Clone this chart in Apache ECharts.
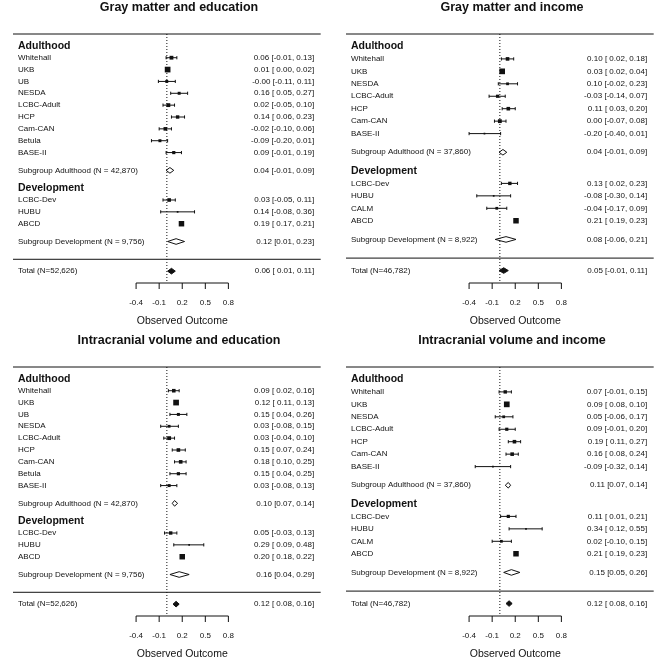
<!DOCTYPE html>
<html>
<head>
<meta charset="utf-8">
<script src="https://cdn.jsdelivr.net/npm/echarts@6/dist/echarts.min.js"></script>
<style>
  html, body { margin: 0; padding: 0; background: #fff; }
  #chart { width: 666px; height: 666px; }
</style>
</head>
<body>
<div id="chart"></div>
<script>
const titles = ['Gray matter and education', 'Gray matter and income',
  'Intracranial volume and education', 'Intracranial volume and income']

const eduAdultNames = ['Whitehall', 'UKB', 'UB', 'NESDA', 'LCBC-Adult', 'HCP', 'Cam-CAN', 'Betula', 'BASE-II']
const incAdultNames = ['Whitehall', 'UKB', 'NESDA', 'LCBC-Adult', 'HCP', 'Cam-CAN', 'BASE-II']
const eduDevNames = ['LCBC-Dev', 'HUBU', 'ABCD']
const incDevNames = ['LCBC-Dev', 'HUBU', 'CALM', 'ABCD']

// sample sizes: subgroup adulthood, subgroup development, total
const eduN = [42870, 9756, 52626]
const incN = [37860, 8922, 46782]

// [estimate, lower, upper]
const gmEduAdult = [[0.06, -0.01, 0.13], [0.01, 0.00, 0.02], [-0.001, -0.11, 0.11], [0.16, 0.05, 0.27],
  [0.02, -0.05, 0.10], [0.14, 0.06, 0.23], [-0.02, -0.10, 0.06], [-0.09, -0.20, 0.01], [0.09, -0.01, 0.19]]
const gmEduDev = [[0.03, -0.05, 0.11], [0.14, -0.08, 0.36], [0.19, 0.17, 0.21]]
const gmEduPooled = [[0.04, -0.01, 0.09], [0.12, 0.01, 0.23], [0.06, 0.01, 0.11]]

const gmIncAdult = [[0.10, 0.02, 0.18], [0.03, 0.02, 0.04], [0.10, -0.02, 0.23], [-0.03, -0.14, 0.07],
  [0.11, 0.03, 0.20], [0.00, -0.07, 0.08], [-0.20, -0.40, 0.01]]
const gmIncDev = [[0.13, 0.02, 0.23], [-0.08, -0.30, 0.14], [-0.04, -0.17, 0.09], [0.21, 0.19, 0.23]]
const gmIncPooled = [[0.04, -0.01, 0.09], [0.08, -0.06, 0.21], [0.05, -0.01, 0.11]]

const icvEduAdult = [[0.09, 0.02, 0.16], [0.12, 0.11, 0.13], [0.15, 0.04, 0.26], [0.03, -0.08, 0.15],
  [0.03, -0.04, 0.10], [0.15, 0.07, 0.24], [0.18, 0.10, 0.25], [0.15, 0.04, 0.25], [0.03, -0.08, 0.13]]
const icvEduDev = [[0.05, -0.03, 0.13], [0.29, 0.09, 0.48], [0.20, 0.18, 0.22]]
const icvEduPooled = [[0.10, 0.07, 0.14], [0.16, 0.04, 0.29], [0.12, 0.08, 0.16]]

const icvIncAdult = [[0.07, -0.01, 0.15], [0.09, 0.08, 0.10], [0.05, -0.06, 0.17], [0.09, -0.01, 0.20],
  [0.19, 0.11, 0.27], [0.16, 0.08, 0.24], [-0.09, -0.32, 0.14]]
const icvIncDev = [[0.11, 0.01, 0.21], [0.34, 0.12, 0.55], [0.02, -0.10, 0.15], [0.21, 0.19, 0.23]]
const icvIncPooled = [[0.11, 0.07, 0.14], [0.15, 0.05, 0.26], [0.12, 0.08, 0.16]]

// relative study weights (marker size)
const gmEduAdultW = [0.55, 1, 0.35, 0.35, 0.55, 0.45, 0.5, 0.35, 0.4]
const gmEduDevW = [0.5, 0.05, 0.95]
const gmIncAdultW = [0.5, 1, 0.3, 0.4, 0.5, 0.55, 0.05]
const gmIncDevW = [0.45, 0.05, 0.3, 0.95]
const icvEduAdultW = [0.5, 1, 0.35, 0.3, 0.55, 0.5, 0.5, 0.4, 0.35]
const icvEduDevW = [0.45, 0.05, 0.95]
const icvIncAdultW = [0.45, 1, 0.3, 0.4, 0.5, 0.5, 0.05]
const icvIncDevW = [0.4, 0.05, 0.3, 0.95]

const tickValues = [-0.4, -0.1, 0.2, 0.5, 0.8]
const tickLabels = ['-0.4', '-0.1', '0.2', '0.5', '0.8']

const FONT = '"Liberation Sans", Arial, sans-serif'

const panels = [
  { names: [eduAdultNames, eduDevNames], data: [gmEduAdult, gmEduDev], w: [gmEduAdultW, gmEduDevW], pooled: gmEduPooled, n: eduN },
  { names: [incAdultNames, incDevNames], data: [gmIncAdult, gmIncDev], w: [gmIncAdultW, gmIncDevW], pooled: gmIncPooled, n: incN },
  { names: [eduAdultNames, eduDevNames], data: [icvEduAdult, icvEduDev], w: [icvEduAdultW, icvEduDevW], pooled: icvEduPooled, n: eduN },
  { names: [incAdultNames, incDevNames], data: [icvIncAdult, icvIncDev], w: [icvIncAdultW, icvIncDevW], pooled: icvIncPooled, n: incN }
]

const f2 = v => v.toFixed(2)
const ciText = (d, pad) => `${f2(d[0])} [${pad && d[1] >= 0 ? ' ' : ''}${f2(d[1])}, ${f2(d[2])}]`
const nText = v => v.toLocaleString('en-US')

// rows counted downward from the top rule
const buildRows = (p) => {
  const nA = p.names[0].length
  const nD = p.names[1].length
  const rows = []
  rows.push({ kind: 'header', text: 'Adulthood', y: 1 })
  p.names[0].forEach((nm, i) => rows.push({ kind: 'study', text: nm, d: p.data[0][i], w: p.w[0][i], y: 2 + i }))
  rows.push({ kind: 'sub', text: `Subgroup Adulthood (N = ${nText(p.n[0])})`, d: p.pooled[0], y: nA + 2.5 })
  rows.push({ kind: 'header', text: 'Development', y: nA + 4 })
  p.names[1].forEach((nm, i) => rows.push({ kind: 'study', text: nm, d: p.data[1][i], w: p.w[1][i], y: nA + 5 + i }))
  rows.push({ kind: 'sub', text: `Subgroup Development (N = ${nText(p.n[1])})`, d: p.pooled[1], y: nA + nD + 5.5 })
  rows.push({ kind: 'total', text: `Total (N=${nText(p.n[2])})`, d: p.pooled[2], y: nA + nD + 8 })
  rows.push({ kind: 'frame', sep: nA + nD + 7, axis: nA + nD + 9, y: 0 })
  return rows
}

const txt = (s, x, y, align, size, weight) => ({
  type: 'text',
  style: { text: s, x, y, align, verticalAlign: 'middle', fontSize: size, fontFamily: FONT, fontWeight: weight || 'normal', fill: '#111' }
})
const seg = (x1, y1, x2, y2, dash) => ({
  type: 'line',
  shape: { x1, y1, x2, y2 },
  style: { stroke: '#111', lineWidth: 1, lineDash: dash || null }
})

const makeRender = rows => (params, api) => {
  const r = rows[params.dataIndex]
  const kids = []
  if (r.kind === 'frame') {
    const [xl, yt] = api.coord([-2, 0])
    const [xr] = api.coord([2, 0])
    const ys = api.coord([0, r.sep])[1]
    const [x0, ya] = api.coord([0, r.axis])
    kids.push(seg(xl, yt, xr, yt))
    kids.push(seg(xl, ys, xr, ys))
    kids.push(seg(x0, yt, x0, ya, [1, 2]))
    const xa = api.coord([tickValues[0], r.axis])[0]
    const xb = api.coord([tickValues[tickValues.length - 1], r.axis])[0]
    kids.push(seg(xa, ya, xb, ya))
    tickValues.forEach((t, i) => {
      const xt = api.coord([t, r.axis])[0]
      kids.push(seg(xt, ya, xt, ya + 6))
      kids.push(txt(tickLabels[i], xt, ya + 20, 'center', 8))
    })
    kids.push(txt('Observed Outcome', api.coord([0.2, r.axis])[0], ya + 38, 'center', 10.5))
    return { type: 'group', children: kids }
  }
  const yc = api.coord([0, r.y])[1]
  const xLab = api.coord([-1.935, r.y])[0]
  const xAnn = api.coord([1.915, r.y])[0]
  if (r.kind === 'header') {
    kids.push(txt(r.text, xLab, yc, 'left', 10.5, 'bold'))
    return { type: 'group', children: kids }
  }
  kids.push(txt(r.text, xLab, yc, 'left', 8))
  kids.push(txt(ciText(r.d, r.kind !== 'sub'), xAnn, yc, 'right', 8))
  const xe = api.coord([r.d[0], r.y])[0]
  const xlo = api.coord([r.d[1], r.y])[0]
  const xhi = api.coord([r.d[2], r.y])[0]
  if (r.kind === 'study') {
    const s = 1.5 + 4.2 * r.w
    kids.push(seg(xlo, yc, xhi, yc))
    kids.push(seg(xlo, yc - 1.6, xlo, yc + 1.6))
    kids.push(seg(xhi, yc - 1.6, xhi, yc + 1.6))
    kids.push({ type: 'rect', shape: { x: xe - s / 2, y: yc - s / 2, width: s, height: s }, style: { fill: '#111' } })
  } else {
    const h = 2.8
    kids.push({
      type: 'polygon',
      shape: { points: [[xlo, yc], [xe, yc - h], [xhi, yc], [xe, yc + h]] },
      style: { fill: r.kind === 'total' ? '#111' : '#fff', stroke: '#111', lineWidth: 1 }
    })
  }
  return { type: 'group', children: kids }
}

const origins = [[0, 0], [333, 0], [0, 333], [333, 333]]
const grid = [], xAxis = [], yAxis = [], series = [], graphic = []

panels.forEach((p, i) => {
  const [ox, oy] = origins[i]
  const rows = buildRows(p)
  const axisRow = rows[rows.length - 1].axis
  grid.push({ left: ox + 13, top: oy + 34, width: 307.7, height: 249 })
  xAxis.push({ gridIndex: i, type: 'value', min: -2, max: 2, show: false })
  yAxis.push({ gridIndex: i, type: 'value', min: 0, max: axisRow, inverse: true, show: false })
  series.push({
    type: 'custom',
    xAxisIndex: i,
    yAxisIndex: i,
    clip: false,
    silent: true,
    renderItem: makeRender(rows),
    data: rows.map(r => [r.d ? r.d[0] : 0, r.y])
  })
  graphic.push({
    type: 'text',
    x: ox + 179,
    y: oy + 7.5,
    style: { text: titles[i], align: 'center', verticalAlign: 'middle', fontSize: 12.5, fontWeight: 'bold', fontFamily: FONT, fill: '#111' }
  })
})

const chart = echarts.init(document.getElementById('chart'))
chart.setOption({ animation: false, grid, xAxis, yAxis, series, graphic })
</script>
</body>
</html>
